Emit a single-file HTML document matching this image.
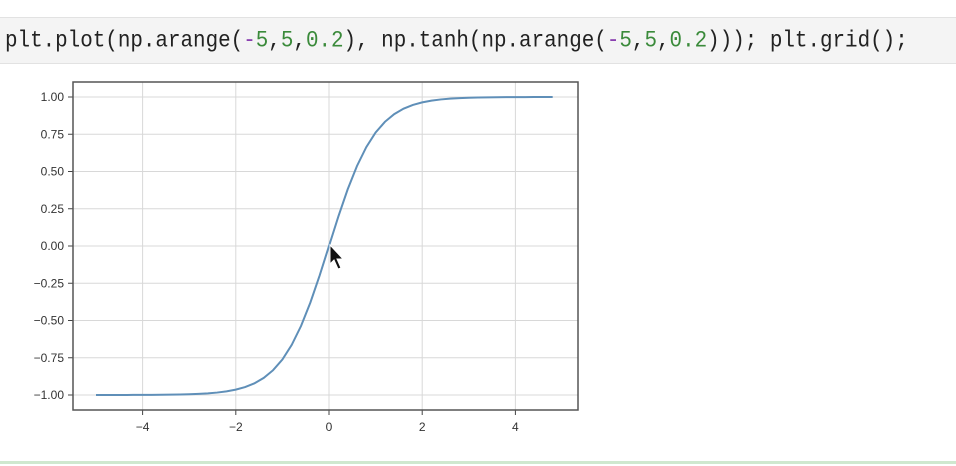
<!DOCTYPE html>
<html><head><meta charset="utf-8"><style>
body{margin:0;width:956px;height:466px;background:#fff;overflow:hidden;position:relative;font-family:"Liberation Sans",sans-serif}
#cell{position:absolute;left:0;top:17px;width:956px;height:45px;background:#f4f4f4;border-top:1px solid #e2e2e2;border-bottom:1px solid #e2e2e2}
#code{position:absolute;left:5px;top:29px;font-family:"Liberation Mono",monospace;font-size:20.9px;color:#222;white-space:pre;transform:scaleY(1.1);transform-origin:left top}
.op{color:#8a3fb0}.n{color:#3a8a3a}
#bottom{position:absolute;left:0;top:461px;width:956px;height:3px;background:#cfe8cf}
</style></head><body>
<div id="cell"></div>
<div id="code">plt.plot(np.arange(<span class="op">-</span><span class="n">5</span>,<span class="n">5</span>,<span class="n">0.2</span>), np.tanh(np.arange(<span class="op">-</span><span class="n">5</span>,<span class="n">5</span>,<span class="n">0.2</span>))); plt.grid();</div>
<svg id="chart" width="956" height="466" style="position:absolute;left:0;top:0"></svg>
<div id="bottom"></div>
<script>
const xTicks=[-4,-2,0,2,4];
const yTicks=[1.00,0.75,0.50,0.25,0.00,-0.25,-0.50,-0.75,-1.00];
const xs=[];for(let i=0;i<50;i++)xs.push(-5+i*0.2);
const ys=xs.map(v=>Math.tanh(v));
const L=73,R=578,T=82,B=410;
const sx=v=>329+v*46.6;
const sy=v=>246-v*149;
const NS='http://www.w3.org/2000/svg';
const svg=document.getElementById('chart');
function mk(t,a){const e=document.createElementNS(NS,t);for(const k in a)e.setAttribute(k,a[k]);svg.appendChild(e);return e;}
xTicks.forEach(t=>{
const g=mk('line',{x1:sx(t),x2:sx(t),y1:T,y2:B,stroke:'#d8d8d8','stroke-width':1});


const tk=mk('line',{x1:sx(t),x2:sx(t),y1:B,y2:B+5,stroke:'#444'});


const tx=mk('text',{x:sx(t),y:B+21,'text-anchor':'middle','font-size':12,fill:'#333'});
tx.textContent=(t<0?'\u2212'+(-t):t);


});
yTicks.forEach(t=>{
const g=mk('line',{x1:L,x2:R,y1:sy(t),y2:sy(t),stroke:'#d8d8d8','stroke-width':1});


const tk=mk('line',{x1:L-5,x2:L,y1:sy(t),y2:sy(t),stroke:'#444'});


const tx=mk('text',{x:L-9,y:sy(t)+4,'text-anchor':'end','font-size':12,fill:'#333'});
tx.textContent=(t<0?'\u2212':'')+Math.abs(t).toFixed(2);


});
const fr=mk('rect',{x:L,y:T,width:R-L,height:B-T,fill:'none',stroke:'#555','stroke-width':1.5});


const ln=mk('polyline',{points:xs.map((x,i)=>sx(x)+','+sy(ys[i])).join(' '),fill:'none',stroke:'#5f8fb8','stroke-width':2});


const cur=mk('path',{d:'M330,245 L330,264 L334,260 L338,269 L341,268 L337,259 L343,259 Z',fill:'#111',stroke:'#fff','stroke-width':1});


</script>
</body></html>
